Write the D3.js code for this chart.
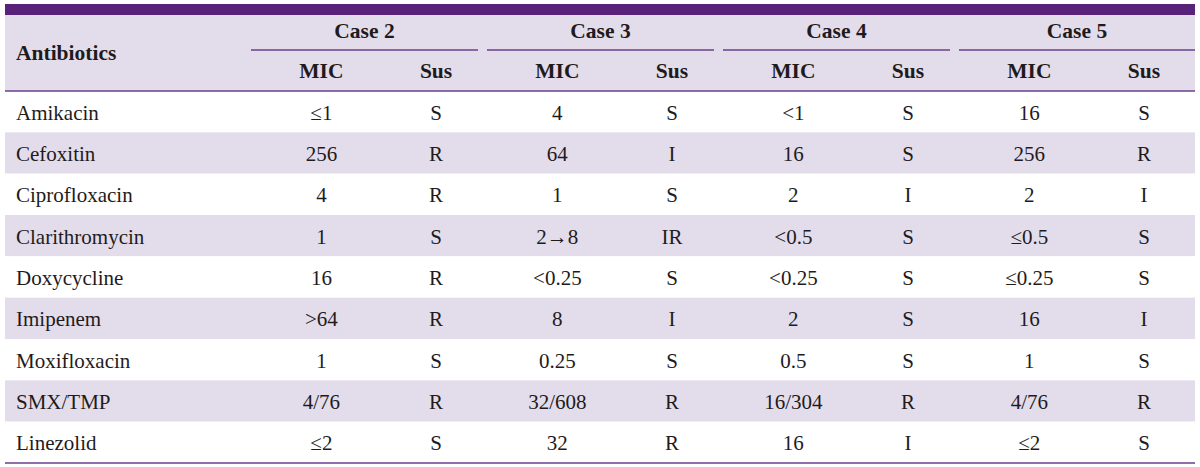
<!DOCTYPE html>
<html><head><meta charset="utf-8">
<script src="https://cdn.jsdelivr.net/npm/d3@7"></script>
<style>body{margin:0;background:#fff}svg{display:block}</style>
</head><body>
<svg id="c" width="1200" height="467"></svg>
<script>
const antibiotics = ["Amikacin","Cefoxitin","Ciprofloxacin","Clarithromycin","Doxycycline","Imipenem","Moxifloxacin","SMX/TMP","Linezolid"];
const cases = ["Case 2","Case 3","Case 4","Case 5"];
const subCols = ["MIC","Sus"];
const mic2 = ["≤1","256","4","1","16",">64","1","4/76","≤2"];
const sus2 = ["S","R","R","S","R","R","S","R","S"];
const mic3 = ["4","64","1","2→8","<0.25","8","0.25","32/608","32"];
const sus3 = ["S","I","S","IR","S","I","S","R","R"];
const mic4 = ["<1","16","2","<0.5","<0.25","2","0.5","16/304","16"];
const sus4 = ["S","S","I","S","S","S","S","R","I"];
const mic5 = ["16","256","2","≤0.5","≤0.25","16","1","4/76","≤2"];
const sus5 = ["S","R","I","S","S","I","S","R","S"];

const left = 5, right = 1195;
const purple = "#58217a", lav = "#e3ddeb", line = "#6a3f8c", txt = "#1f1b1c";
const font = "Liberation Serif, Tinos, serif";
const bodySize = 21, headSize = 21.5;
const svg = d3.select("#c");

const headTop = 15, headBot = 91, tableBot = 463;
const y = d3.scaleBand().domain(antibiotics).range([headBot, tableBot]);
const xg = d3.scaleBand().domain(cases).range([251, 1186]).paddingInner(0.038);
const xs = d3.scalePoint().domain(subCols).range([0.31, 0.815]);

const tableData = cases.map((c, i) => ({ case: c, mic: [mic2, mic3, mic4, mic5][i], sus: [sus2, sus3, sus4, sus5][i] }));

function styleText(sel, bold, size) {
  return sel.style("font-family", font).style("font-weight", bold ? "bold" : "normal")
    .style("font-size", size + "px").attr("fill", txt);
}

svg.append("rect").attr("x", left).attr("y", 4).attr("width", right - left).attr("height", headTop - 4).attr("fill", purple);
svg.append("rect").attr("x", left).attr("y", headTop).attr("width", right - left).attr("height", headBot - headTop).attr("fill", lav);
svg.selectAll("rect.row").data(antibiotics).join("rect").attr("class", "row")
  .attr("x", left).attr("width", right - left)
  .attr("y", d => y(d)).attr("height", y.bandwidth())
  .attr("fill", (d, i) => i % 2 ? lav : "#fff");
svg.append("line").attr("x1", left).attr("x2", right).attr("y1", headBot).attr("y2", headBot).attr("stroke", line).attr("stroke-width", 1.5);
svg.append("line").attr("x1", left).attr("x2", right).attr("y1", tableBot).attr("y2", tableBot).attr("stroke", line).attr("stroke-width", 1.5);

styleText(svg.append("text").attr("x", 16).attr("y", 60).text("Antibiotics"), true, headSize);

const g = svg.selectAll("g.case").data(tableData).join("g").attr("class", "case");
const gx1 = (d, i) => i === cases.length - 1 ? right : xg(d.case) + xg.bandwidth();
g.append("line")
  .attr("x1", d => xg(d.case)).attr("x2", gx1)
  .attr("y1", 50).attr("y2", 50).attr("stroke", line).attr("stroke-width", 1.5);
styleText(g.append("text")
  .attr("x", (d, i) => (xg(d.case) + gx1(d, i)) / 2)
  .attr("y", 38).attr("text-anchor", "middle").text(d => d.case), true, headSize);
subCols.forEach(s => {
  styleText(g.append("text")
    .attr("x", d => xg(d.case) + xs(s) * xg.bandwidth())
    .attr("y", 78).attr("text-anchor", "middle").text(s), true, headSize);
});

styleText(svg.selectAll("text.ab").data(antibiotics).join("text").attr("class", "ab")
  .attr("x", 16).attr("y", d => y(d) + y.bandwidth() / 2 + 8).text(d => d), false, bodySize);

tableData.forEach(cd => {
  ["mic", "sus"].forEach((k, j) => {
    styleText(svg.selectAll(null).data(cd[k]).join("text")
      .attr("x", xg(cd.case) + xs(subCols[j]) * xg.bandwidth())
      .attr("y", (d, i) => y(antibiotics[i]) + y.bandwidth() / 2 + 8)
      .attr("text-anchor", "middle").text(d => d), false, bodySize);
  });
});
</script>
</body></html>
